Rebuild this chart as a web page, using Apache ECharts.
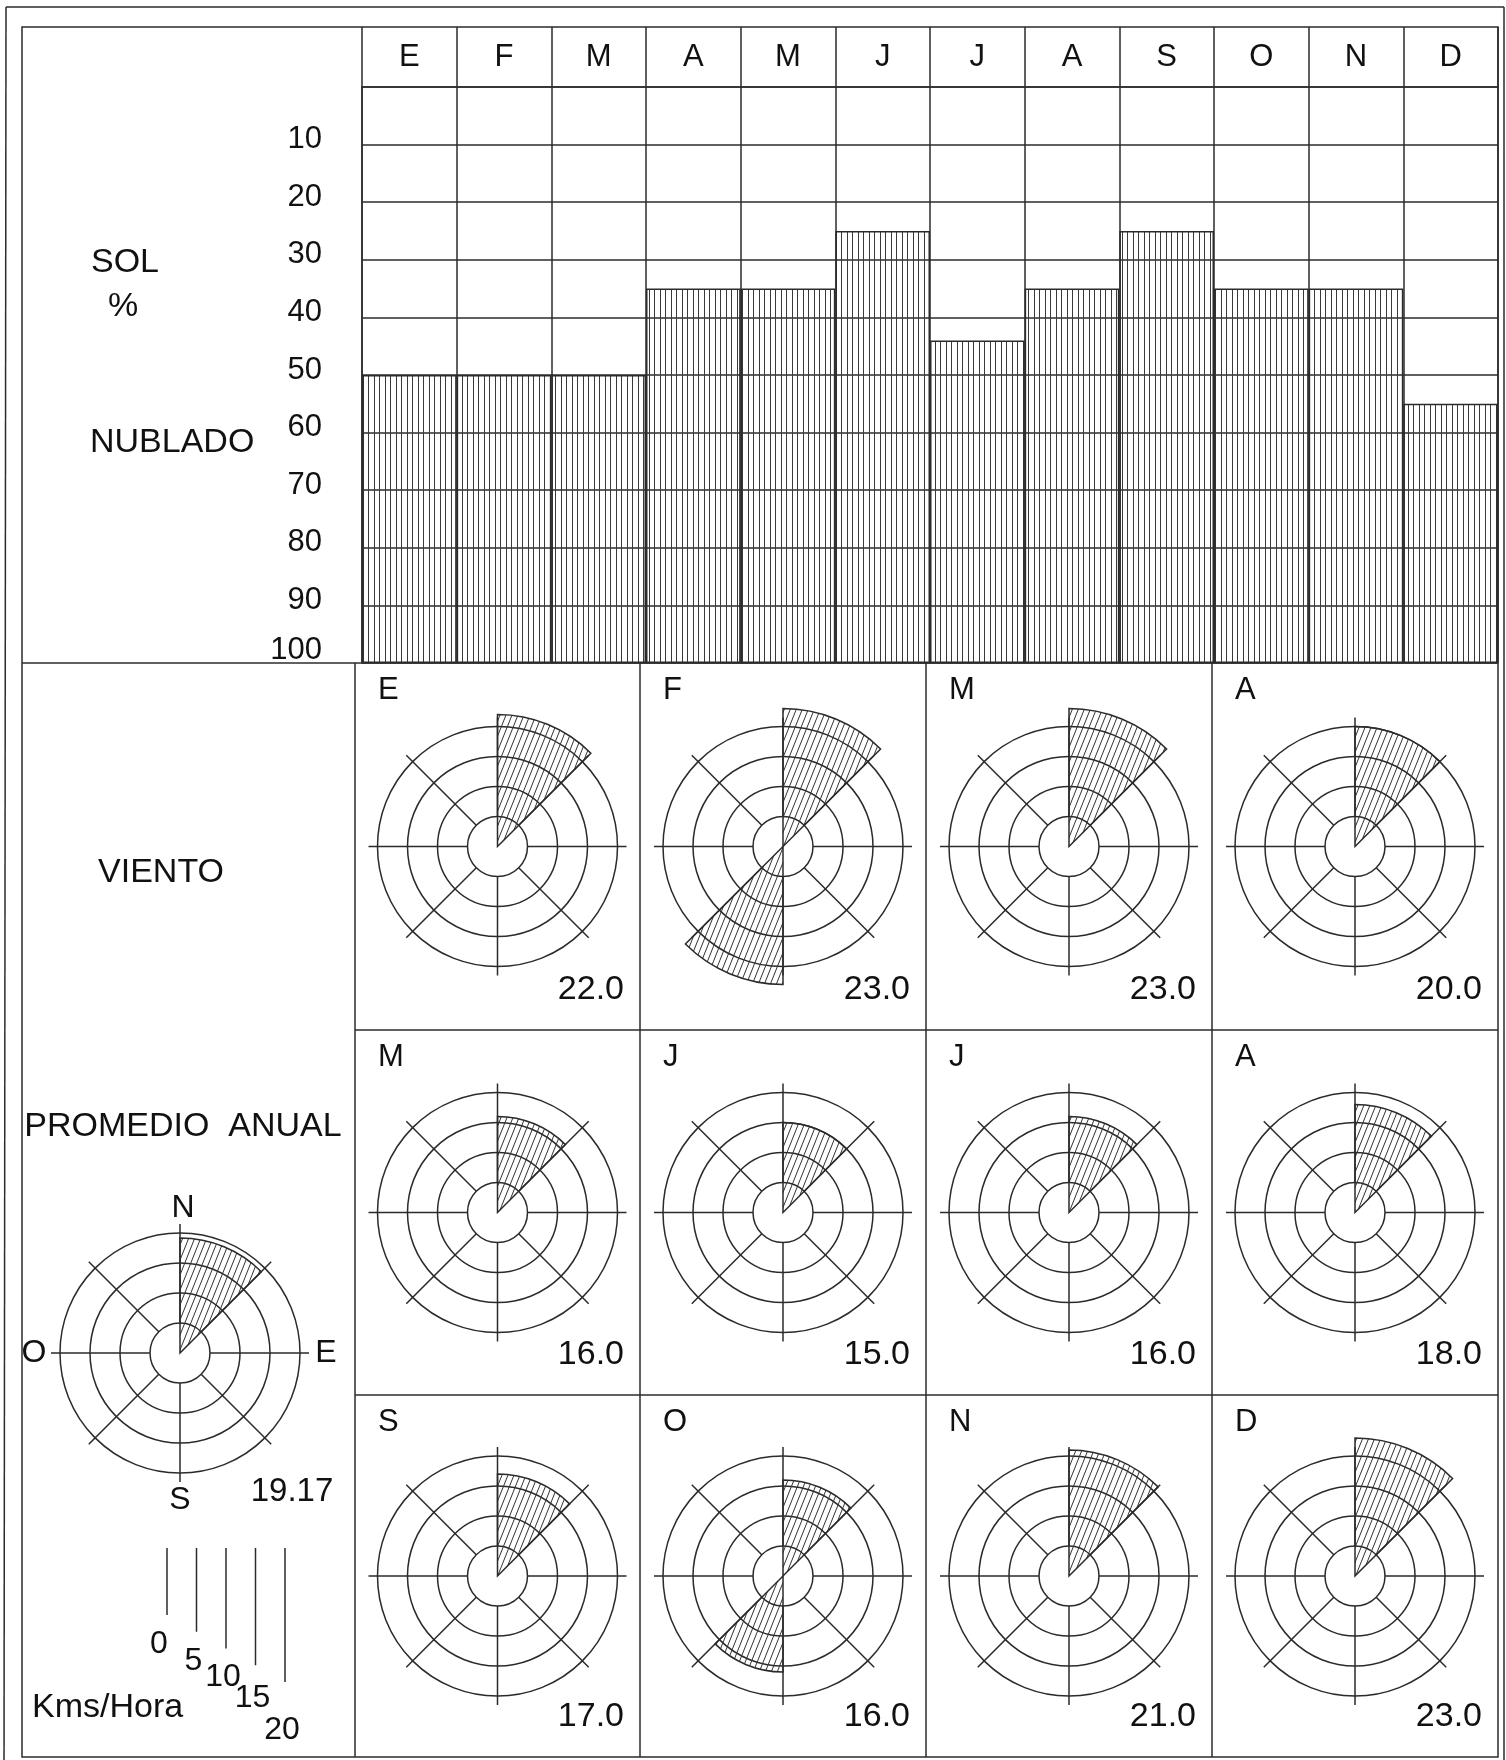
<!DOCTYPE html>
<html>
<head>
<meta charset="utf-8">
<title>Sol y viento</title>
<script src="https://cdn.jsdelivr.net/npm/echarts@6/dist/echarts.min.js"></script>
<style>
    html, body { margin: 0; padding: 0; background: #fff; }
    #chart { width: 1506px; height: 1760px; }
</style>
</head>
<body>
<div id="chart"></div>
<script>
    // ---- datos ----
    var meses = ['E', 'F', 'M', 'A', 'M', 'J', 'J', 'A', 'S', 'O', 'N', 'D'];
    // % de sol (el resto hasta 100 es nublado)
    var sol = [50, 50, 50, 35, 35, 25, 44, 35, 25, 35, 35, 55];
    var ticksCielo = [10, 20, 30, 40, 50, 60, 70, 80, 90, 100];

    // viento: sectores de 45 grados empezando en el norte
    var sectores = ['NNE', 'ENE', 'ESE', 'SSE', 'SSO', 'OSO', 'ONO', 'NNO'];
    var velocidad = [22.0, 23.0, 23.0, 20.0, 16.0, 15.0, 16.0, 18.0, 17.0, 16.0, 21.0, 23.0];
    var direccion = [['NNE'], ['NNE', 'SSO'], ['NNE'], ['NNE'], ['NNE'], ['NNE'],
                     ['NNE'], ['NNE'], ['NNE'], ['NNE', 'SSO'], ['NNE'], ['NNE']];
    var velocidadAnual = 19.17;
    var direccionAnual = ['NNE'];
    var escalaKm = [0, 5, 10, 15, 20];

    // ---- estilos ----
    var FONT = '"Liberation Sans", Arial, Helvetica, sans-serif';
    var LINEA = '#2b2b2b';
    var TEXTO = '#111';
    var K = 6.0; // px por km/h en las rosas

    function rayado(w, h, dibuja) {
        var c = document.createElement('canvas');
        c.width = w;
        c.height = h;
        dibuja(c.getContext('2d'));
        return {image: c, repeat: 'repeat'};
    }
    var rayadoBarras = rayado(11, 4, function (ctx) {
        ctx.fillStyle = '#3a3a3a';
        ctx.fillRect(0, 0, 1, 4);
        ctx.fillRect(5, 0, 1, 4);
    });
    var rayadoRosa = rayado(6, 15, function (ctx) {
        ctx.strokeStyle = '#333';
        ctx.lineWidth = 1;
        for (var dx = -6; dx <= 6; dx += 6) {
            ctx.beginPath();
            ctx.moveTo(dx, 15);
            ctx.lineTo(dx + 6, 0);
            ctx.stroke();
        }
    });

    var polar = [], angleAxis = [], radiusAxis = [], series = [], graphic = [];

    function texto(t, x, y, size, align) {
        graphic.push({
            type: 'text', silent: true,
            style: {
                text: t, x: x, y: y, fill: TEXTO,
                font: size + 'px ' + FONT,
                textAlign: align || 'center', align: align || 'center',
                textVerticalAlign: 'middle', verticalAlign: 'middle'
            }
        });
    }
    function linea(x1, y1, x2, y2, w) {
        graphic.push({
            type: 'line', silent: true,
            shape: {x1: x1, y1: y1, x2: x2, y2: y2},
            style: {stroke: LINEA, lineWidth: w || 1.5}
        });
    }

    var ejeOculto = {axisLine: {show: false}, axisTick: {show: false}, axisLabel: {show: false}};

    // una rosa = polar de la reticula (anillos 5..20 y radios) + polar de los datos
    function rosa(cx, cy, vel, dirs) {
        var pi = polar.length;
        polar.push({center: [cx, cy], radius: [5 * K, 21.5 * K]});
        polar.push({center: [cx, cy], radius: [0, 24 * K]});
        angleAxis.push(Object.assign({
            polarIndex: pi, type: 'category', data: sectores, startAngle: 90, clockwise: true,
            splitLine: {show: true, interval: 0, lineStyle: {color: LINEA, width: 1.5}}
        }, ejeOculto));
        radiusAxis.push(Object.assign({
            polarIndex: pi, type: 'value', min: 5, max: 21.5, interval: 5,
            splitLine: {show: true, lineStyle: {color: [LINEA, LINEA, LINEA, LINEA, 'rgba(0,0,0,0)'], width: 1.5}}
        }, ejeOculto));
        angleAxis.push(Object.assign({
            polarIndex: pi + 1, type: 'category', data: sectores, startAngle: 90, clockwise: true,
            splitLine: {show: false}
        }, ejeOculto));
        radiusAxis.push(Object.assign({
            polarIndex: pi + 1, type: 'value', min: 0, max: 24, splitLine: {show: false}
        }, ejeOculto));
        series.push({
            type: 'bar', coordinateSystem: 'polar', polarIndex: pi + 1,
            barCategoryGap: '0%', clip: false, silent: true,
            data: sectores.map(function (s) { return dirs.indexOf(s) >= 0 ? vel : '-'; }),
            itemStyle: {color: rayadoRosa, borderColor: LINEA, borderWidth: 1.5}
        });
    }

    // ---- marco ----
    linea(6, 7, 1504, 7, 1.5);
    linea(6, 7, 4, 1760, 1.5);
    linea(1504, 7, 1504, 1760, 1.5);
    graphic.push({type: 'rect', silent: true, shape: {x: 22, y: 27, width: 1476, height: 1730},
        style: {fill: 'none', stroke: LINEA, lineWidth: 1.5}});
    linea(22, 663, 1498, 663);

    // ---- panel de rosas ----
    var colX = [355, 640, 926, 1212, 1498];
    var filaY = [663, 1030, 1395, 1757];
    colX.slice(0, 4).forEach(function (x) { linea(x, 663, x, 1757); });
    linea(355, 1030, 1498, 1030);
    linea(355, 1395, 1498, 1395);

    meses.forEach(function (m, i) {
        var c = i % 4, f = Math.floor(i / 4);
        var x0 = colX[c], x1 = colX[c + 1], y0 = filaY[f], y1 = filaY[f + 1];
        rosa((x0 + x1) / 2, (y0 + y1) / 2, velocidad[i], direccion[i]);
        texto(m, x0 + 23, y0 + 27, 31, 'left');
        texto(velocidad[i].toFixed(1), x1 - 16, y1 - 40, 34, 'right');
    });

    // ---- columna izquierda ----
    texto('SOL', 91, 263, 34, 'left');
    texto('%', 123, 307, 34);
    texto('NUBLADO', 90, 443, 34, 'left');
    texto('VIENTO', 161, 873, 34);
    texto('PROMEDIO  ANUAL', 183, 1127, 34);

    var ax = 180, ay = 1353;
    rosa(ax, ay, velocidadAnual, direccionAnual);
    texto('N', ax + 3, ay - 145, 32);
    texto('S', ax, ay + 147, 32);
    texto('E', ax + 146, ay, 32);
    texto('O', ax - 146, ay, 32);
    texto(String(velocidadAnual), 292, 1492, 33);

    // escala Kms/Hora
    var etiquetaDy = [29, 29, 29, 33, 48];
    escalaKm.forEach(function (v, i) {
        var x = 167 + 29.5 * i, yb = 1615 + 16.75 * i;
        linea(x, 1548, x, yb, 1.5);
        texto(String(v), x - (i === 0 ? 8 : 3), yb + etiquetaDy[i], 32);
    });
    texto('Kms/Hora', 32, 1708, 34, 'left');

    // ---- barras sol / nublado ----
    series.unshift(
        {
            type: 'bar', name: 'Sol', stack: 'cielo', xAxisIndex: 0, yAxisIndex: 0,
            barCategoryGap: '0%', silent: true, data: sol,
            itemStyle: {color: 'rgba(0,0,0,0)'}
        },
        {
            type: 'bar', name: 'Nublado', stack: 'cielo', xAxisIndex: 0, yAxisIndex: 0,
            barCategoryGap: '0%', silent: true,
            data: sol.map(function (v) { return 100 - v; }),
            itemStyle: {color: rayadoBarras, borderColor: LINEA, borderWidth: 1.5}
        }
    );

    var estiloEje = {color: LINEA, width: 1.5};
    var option = {
        animation: false,
        backgroundColor: '#fff',
        textStyle: {fontFamily: FONT},
        grid: [{left: 362, top: 87, width: 1136, height: 576}],
        xAxis: [{
            type: 'category', data: meses, position: 'top', gridIndex: 0,
            axisLine: {show: true, lineStyle: estiloEje},
            axisTick: {show: true, length: 60, interval: 0, lineStyle: estiloEje},
            axisLabel: {fontSize: 31, color: TEXTO, fontFamily: FONT, margin: 14, interval: 0},
            splitLine: {show: true, interval: 0, lineStyle: estiloEje}
        }],
        yAxis: [{
            type: 'value', inverse: true, min: 0, max: 100, interval: 10, gridIndex: 0,
            axisLine: {show: true, lineStyle: estiloEje},
            axisTick: {show: false},
            axisLabel: {
                margin: 40, verticalAlign: 'middle',
                formatter: function (v) {
                    if (ticksCielo.indexOf(v) < 0) return '';
                    return v === 100 ? '{b|' + v + '}' : '{a|' + v + '}';
                },
                rich: {
                    a: {fontSize: 31, fontFamily: FONT, color: TEXTO, padding: [0, 0, 10, 0]},
                    b: {fontSize: 31, fontFamily: FONT, color: TEXTO, padding: [0, 0, 26, 0]}
                }
            },
            splitLine: {show: true, lineStyle: estiloEje}
        }],
        polar: polar,
        angleAxis: angleAxis,
        radiusAxis: radiusAxis,
        graphic: graphic,
        series: series
    };

    var myChart = echarts.init(document.getElementById('chart'));
    myChart.setOption(option);
</script>
</body>
</html>
